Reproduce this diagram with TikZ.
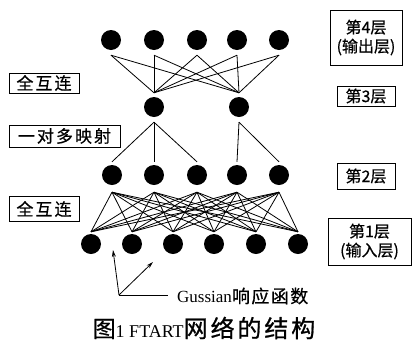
\documentclass[tikz,border=0pt]{standalone}
\usepackage{fontspec}
\setmainfont{Liberation Serif}
\newfontfamily\cjk[FakeBold=0.6]{Noto Sans CJK SC}
\newfontfamily\cjkwide[LetterSpace=12,FakeBold=0.6]{Noto Sans CJK SC}
\newfontfamily\cjkmid[LetterSpace=8,FakeBold=0.6]{Noto Sans CJK SC}
\newfontfamily\cjkcap[LetterSpace=12,FakeBold=0.8]{Noto Sans CJK SC}
\usetikzlibrary{arrows.meta}
\begin{document}
\begin{tikzpicture}[x=1pt,y=-1pt,
  neuron/.style={circle,fill=black,minimum size=20pt,inner sep=0pt},
  link/.style={line width=0.8pt},
  lbox/.style={draw,line width=1pt,inner sep=0pt,align=center},
  lefttxt/.style={font=\fontsize{17}{17}\selectfont\cjkwide},
  righttxt/.style={font=\fontsize{16}{19}\selectfont\cjk},
  arr/.style={line width=0.8pt,-{Stealth[length=7pt,width=4pt]}}
]
\useasboundingbox (0,0) rectangle (413,349);
% layer 4
\foreach \n/\x in {a/111,b/154,c/197,d/237,e/279}
  \node[neuron] (L4\n) at (\x,40) {};
% layer 3
\node[neuron] (L3a) at (154,107) {};
\node[neuron] (L3b) at (239,107) {};
% layer 2
\foreach \n/\x in {a/112,b/154,c/197,d/237,e/279}
  \node[neuron] (L2\n) at (\x,175) {};
% layer 1
\foreach \n/\x in {a/91,b/132,c/173,d/214,e/256,f/298}
  \node[neuron] (L1\n) at (\x,244) {};
% 4 -> 3 full connection
\foreach \a in {a,b,c,d,e}
  \foreach \b in {a,b}
    \draw[link] ([yshift=-5pt]L4\a.south) -- ([yshift=4pt]L3\b.north);
% 3 -> 2 one-to-many
\foreach \b in {a,b,c}
  \draw[link] ([yshift=-5pt]L3a.south) -- ([yshift=3pt]L2\b.north);
\foreach \b in {d,e}
  \draw[link] ([yshift=-5pt]L3b.south) -- ([yshift=3pt]L2\b.north);
% 2 -> 1 full connection
\foreach \a in {a,b,c,d,e}
  \foreach \b in {a,b,c,d,e,f}
    \draw[link] ([yshift=-7pt]L2\a.south) -- ([yshift=2pt]L1\b.north);
% left labels
\node[lbox,lefttxt,minimum width=70pt,minimum height=20pt] (lab1) at (44,83) {全互连};
\node[lbox,lefttxt,minimum width=111pt,minimum height=22pt] (lab2) at (64.5,136) {一对多映射};
\node[lbox,lefttxt,minimum width=70pt,minimum height=25pt] (lab3) at (44,209) {全互连};
% right labels
\node[lbox,righttxt,minimum width=72pt,minimum height=55pt] (r4) at (366,37.5) {第4层\\({输出层})};
\node[lbox,righttxt,minimum width=58pt,minimum height=20pt] (r3) at (366,96) {第3层};
\node[lbox,righttxt,minimum width=58pt,minimum height=26pt] (r2) at (366,176) {第2层};
\node[lbox,righttxt,minimum width=83pt,minimum height=47pt] (r1) at (369.5,241.5) {第1层\\({输入层})};
% Gaussian arrows
\coordinate (av) at (119,295);
\coordinate (a1) at (113,250);
\coordinate (a2) at (153,262);
\coordinate (a3) at (168,295);
\draw[arr] (av) -- (a1);
\draw[arr] (av) -- (a2);
\draw[line width=0.8pt] (av) -- (a3);
\node[anchor=west,inner sep=0pt] (gtxt) at (177,296)
  {\fontsize{17}{17}\selectfont Gussian\cjkmid\fontsize{18}{18}\selectfont 响应函数};
% caption
\node[inner sep=0pt] (cap) at (204,328)
  {{\fontsize{23}{23}\selectfont\cjk 图}{\fontsize{18}{18}\selectfont 1 FTART}{\fontsize{24}{24}\selectfont\cjkcap 网络的结构}};
\end{tikzpicture}
\end{document}
